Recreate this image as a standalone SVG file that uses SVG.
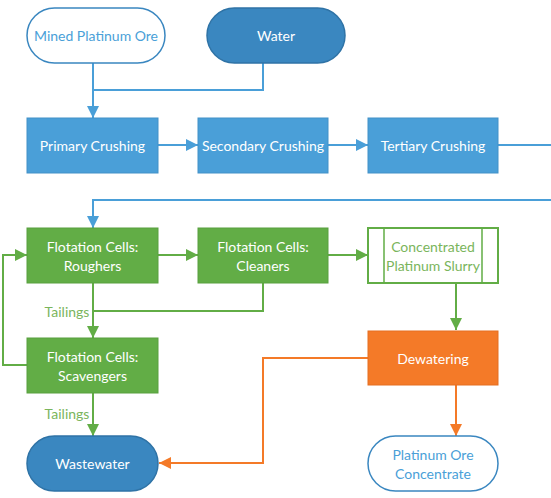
<svg xmlns="http://www.w3.org/2000/svg" width="551" height="498" viewBox="0 0 551 498">
<defs>
<marker id="ab" viewBox="0 0 10 10" refX="10" refY="5" markerWidth="6" markerHeight="6" orient="auto" markerUnits="strokeWidth"><path d="M0,0 L10,5 L0,10 z" fill="#4a9fd8"/></marker>
<marker id="ag" viewBox="0 0 10 10" refX="10" refY="5" markerWidth="6" markerHeight="6" orient="auto" markerUnits="strokeWidth"><path d="M0,0 L10,5 L0,10 z" fill="#62ad46"/></marker>
<marker id="ao" viewBox="0 0 10 10" refX="10" refY="5" markerWidth="6" markerHeight="6" orient="auto" markerUnits="strokeWidth"><path d="M0,0 L10,5 L0,10 z" fill="#f47a28"/></marker>
</defs>
<style>
text{font-family:"Lato","Liberation Sans",sans-serif;font-size:14px;text-anchor:middle;dominant-baseline:central}
.w{fill:#fff}
.bproc{fill:#4a9fd8;stroke:#4291c8;stroke-width:1}
.gproc{fill:#62ad46;stroke:#58a03e;stroke-width:1}
.oproc{fill:#f47a28;stroke:#e56e20;stroke-width:1}
.dterm{fill:#3a87c0;stroke:#2f73a6;stroke-width:1.5}
.lterm{fill:#fff;stroke:#3a87c0;stroke-width:1.5}
.cb{fill:none;stroke:#4a9fd8;stroke-width:2}
.cg{fill:none;stroke:#62ad46;stroke-width:2}
.co{fill:none;stroke:#f47a28;stroke-width:2}
</style>
<g id="connectors">
<path class="cb" d="M93,63 V90 H263 V63"/>
<path class="cb" d="M93,90 V118" marker-end="url(#ab)"/>
<path class="cb" d="M158,145 H198" marker-end="url(#ab)"/>
<path class="cb" d="M328,145 H368" marker-end="url(#ab)"/>
<path class="cb" d="M498,145 H553 M553,200 H93 V228" marker-end="url(#ab)"/>
<path class="cg" d="M158,255 H198" marker-end="url(#ag)"/>
<path class="cg" d="M328,255 H368" marker-end="url(#ag)"/>
<path class="cg" d="M93,283 V338" marker-end="url(#ag)"/>
<path class="cg" d="M263,283 V311 H93"/>
<path class="cg" d="M27,365 H3 V255 H27" marker-end="url(#ag)"/>
<path class="cg" d="M93,393 V436" marker-end="url(#ag)"/>
<path class="cg" d="M456,283 V330" marker-end="url(#ag)"/>
<path class="co" d="M368,358 H263 V463 H159" marker-end="url(#ao)"/>
<path class="co" d="M456,385 V436" marker-end="url(#ao)"/>
<text x="67" y="311" fill="#7ab55c">Tailings</text>
<text x="67" y="413" fill="#7ab55c">Tailings</text>
</g>
<g id="mined"><rect class="lterm" x="27" y="8" width="138" height="55" rx="27.5"/><text x="96" y="35.5" fill="#4a9fd8">Mined Platinum Ore</text></g>
<g id="water"><rect class="dterm" x="207" y="8" width="138" height="55" rx="27.5"/><text class="w" x="276" y="35.5">Water</text></g>
<g id="primary"><rect class="bproc" x="27" y="118" width="131" height="55"/><text class="w" x="92.5" y="145.5">Primary Crushing</text></g>
<g id="secondary"><rect class="bproc" x="198" y="118" width="130" height="55"/><text class="w" x="263" y="145.5">Secondary Crushing</text></g>
<g id="tertiary"><rect class="bproc" x="368" y="118" width="130" height="55"/><text class="w" x="433" y="145.5">Tertiary Crushing</text></g>
<g id="roughers"><rect class="gproc" x="27" y="228" width="131" height="55"/><text class="w" x="92.5" y="246">Flotation Cells:</text><text class="w" x="92.5" y="265">Roughers</text></g>
<g id="cleaners"><rect class="gproc" x="198" y="228" width="130" height="55"/><text class="w" x="263" y="246">Flotation Cells:</text><text class="w" x="263" y="265">Cleaners</text></g>
<g id="slurry"><rect x="368" y="228" width="130" height="55" fill="#fff" stroke="#62ad46" stroke-width="2"/><path d="M384,228 V283 M482,228 V283" stroke="#62ad46" stroke-width="1.5"/><text x="433" y="246" fill="#7ab55c">Concentrated</text><text x="433" y="265" fill="#7ab55c">Platinum Slurry</text></g>
<g id="scavengers"><rect class="gproc" x="27" y="338" width="131" height="55"/><text class="w" x="92.5" y="356">Flotation Cells:</text><text class="w" x="92.5" y="375">Scavengers</text></g>
<g id="dewatering"><rect class="oproc" x="368" y="331" width="130" height="54"/><text class="w" x="433" y="358">Dewatering</text></g>
<g id="wastewater"><rect class="dterm" x="27" y="436" width="131" height="55" rx="27.5"/><text class="w" x="92.5" y="463.5">Wastewater</text></g>
<g id="concentrate"><rect class="lterm" x="368" y="436" width="130" height="55" rx="27.5"/><text x="433" y="454" fill="#4a9fd8">Platinum Ore</text><text x="433" y="473" fill="#4a9fd8">Concentrate</text></g>
</svg>
